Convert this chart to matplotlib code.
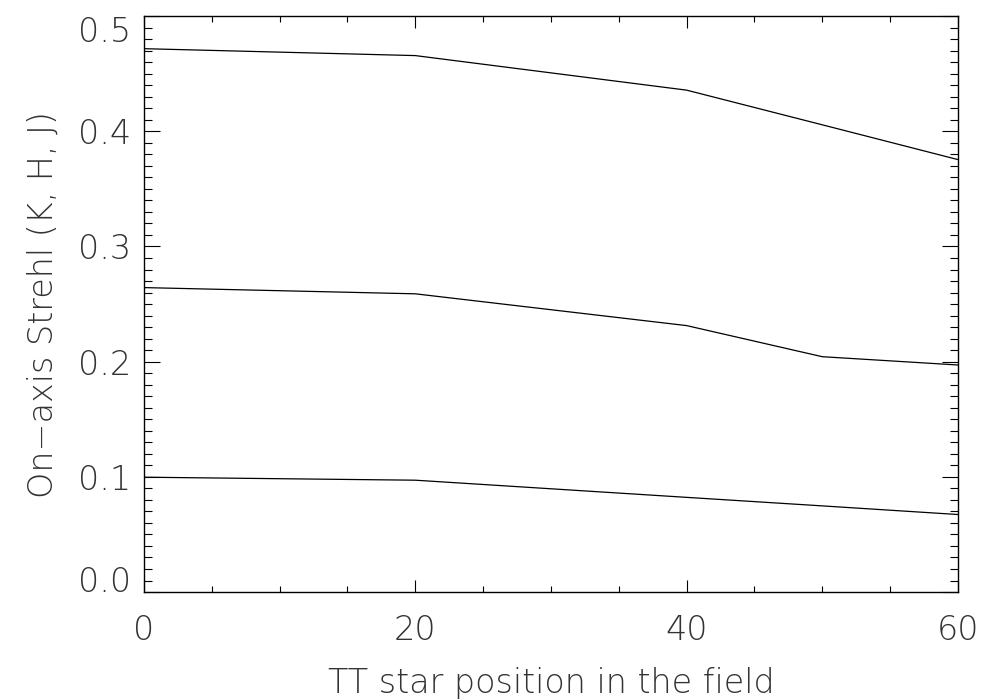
import numpy as np
import matplotlib
matplotlib.use("Agg")
import matplotlib.pyplot as plt
from matplotlib.ticker import MultipleLocator

# Data
tt_position = [0, 20, 40, 50, 60]
strehl_k = [0.4717, 0.4657, 0.4357, 0.4056, 0.3754]
strehl_h = [0.2643, 0.2589, 0.2313, 0.2043, 0.1971]
strehl_j = [0.0997, 0.0971, 0.0822, 0.0748, 0.0673]

x_major = [0, 20, 40, 60]
y_major = [0.0, 0.1, 0.2, 0.3, 0.4, 0.5]
y_labels = ["0.0", "0.1", "0.2", "0.3", "0.4", "0.5"]

plt.rcParams['font.family'] = ['DejaVu Sans']
plt.rcParams['font.weight'] = 'light'
text_color = '#333333'
fsize = 24

fig = plt.figure(figsize=(9.86, 6.99), dpi=100)
ax = fig.add_axes([0.146, 0.153, 0.8256, 0.824])

for series in (strehl_k, strehl_h, strehl_j):
    ax.plot(tt_position, series, color='black', linewidth=0.9)

# IDL style ticks
ax.set_xticks(x_major)
ax.set_yticks(y_major)
ax.set_yticklabels(y_labels)
ax.xaxis.set_minor_locator(MultipleLocator(5))
ax.yaxis.set_minor_locator(MultipleLocator(0.01))

ax.set_xlim(0, 60)
ax.set_ylim(0, 0.5)

ax.tick_params(axis='both', which='both', direction='in', top=True, right=True,
               width=0.8, color='black', labelcolor=text_color, labelsize=fsize)
ax.tick_params(axis='x', which='major', length=8.6, pad=16)
ax.tick_params(axis='x', which='minor', length=4.3)
ax.tick_params(axis='y', which='major', length=11.5, pad=9.4)
ax.tick_params(axis='y', which='minor', length=5.8)

for spine in ax.spines.values():
    spine.set_linewidth(1.0)

# end labels are pushed inside the axis range like IDL does
yticks = ax.yaxis.get_major_ticks()
yticks[0].label1.set_va('baseline')
yticks[-1].label1.set_va('top')

ax.set_xlabel("TT star position in the field", fontsize=fsize, color=text_color,
              fontweight='light')
ax.set_ylabel("On\u2212axis Strehl (K, H, J)", fontsize=fsize, color=text_color,
              fontweight='light')
ax.xaxis.set_label_coords(0.5, -0.13)
ax.yaxis.set_label_coords(-0.103, 0.5)

fig.savefig("out.png", dpi=100)
